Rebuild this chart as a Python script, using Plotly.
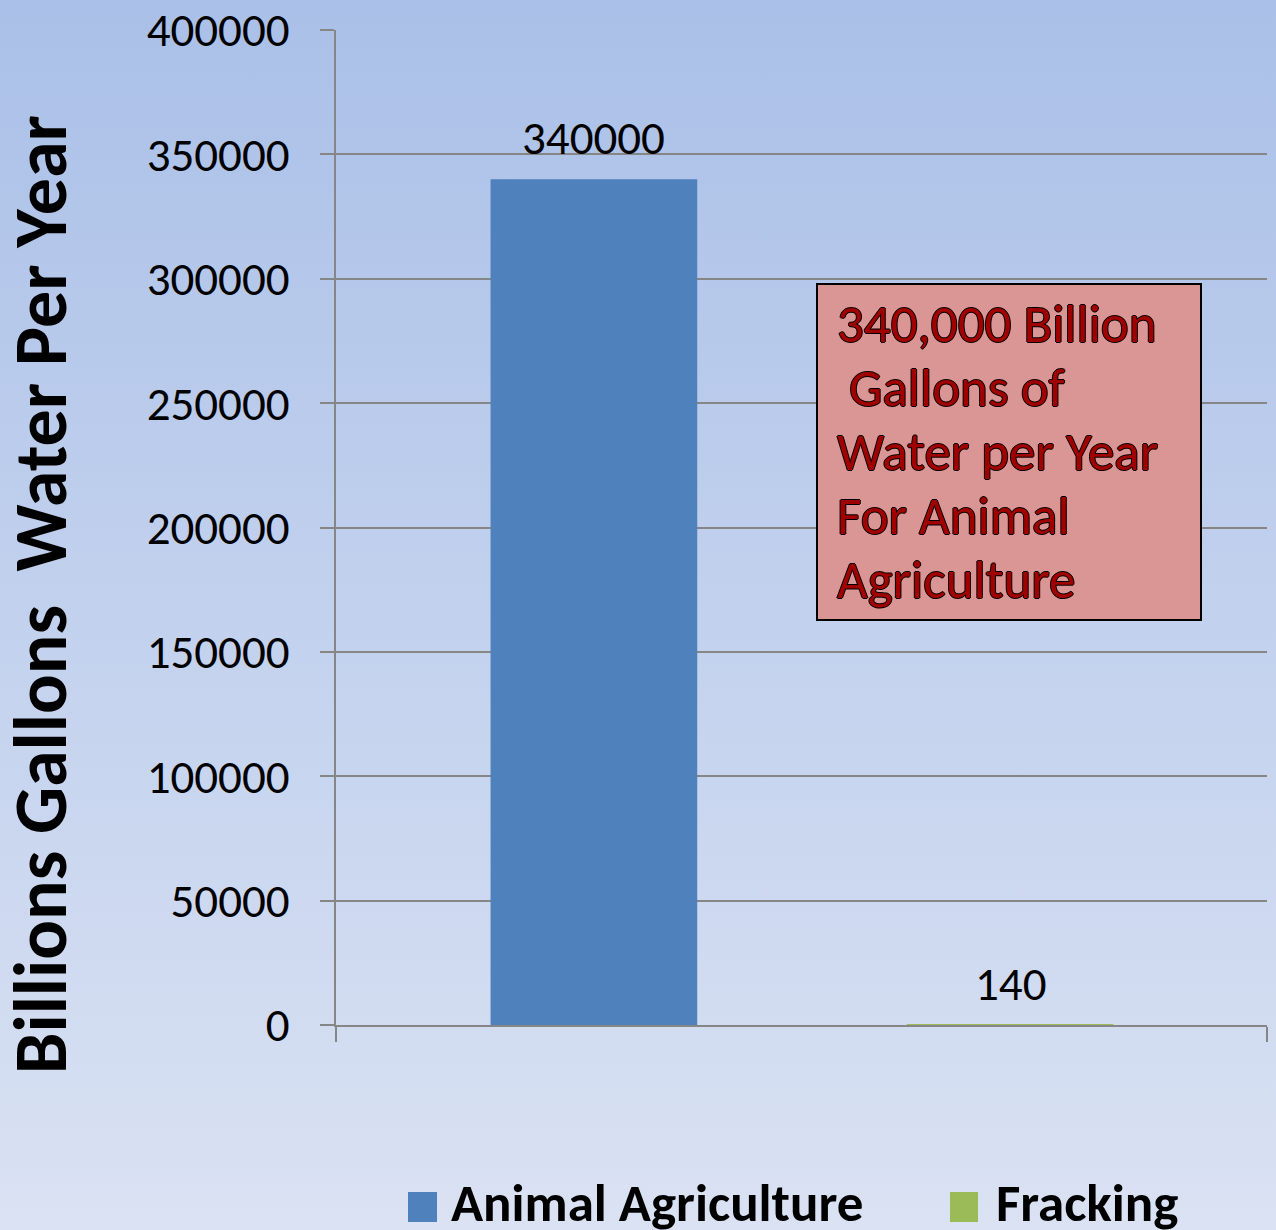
import base64
import plotly.graph_objects as go

# ---- data ----
category = ["Water Use"]
series_names = ["Animal Agriculture", "Fracking"]
series_values = [340000, 140]
series_colors = ["#4f81bd", "#9bbb59"]
y_tick_values = [0, 50000, 100000, 150000, 200000, 250000, 300000, 350000, 400000]
y_title = "Billions Gallons\u00a0 Water Per Year"
callout_lines = ["340,000 Billion", "\u00a0Gallons of", "Water per Year", "For Animal", "Agriculture"]

# ---- layout geometry ----
W, H = 1276, 1230
ML, MR, MT, MB = 336, 9, 30, 205
PW, PH = W - ML - MR, H - MT - MB

def px_x(px):
    return (px - ML) / PW

def px_y(py):
    return 1 - (py - MT) / PH

FONT = "Carlito, Calibri, 'Open Sans', sans-serif"
GRID = "#868686"

bar_width = 0.222
bar_offsets = [-0.334, 0.113]

fig = go.Figure()
for name, val, col, off in zip(series_names, series_values, series_colors, bar_offsets):
    fig.add_trace(go.Bar(
        x=category, y=[val], name=name, marker=dict(color=col, line=dict(width=0)),
        offset=off, width=bar_width, showlegend=False,
    ))
    # data label
    fig.add_annotation(
        x=off + bar_width / 2, y=val, xref="x", yref="y", text=str(val),
        showarrow=False, yanchor="bottom", yshift=10,
        font=dict(family=FONT, size=47, color="#000000"),
    )

# background gradient
svg = (
    f'<svg xmlns="http://www.w3.org/2000/svg" width="{W}" height="{H}" preserveAspectRatio="none">'
    '<defs><linearGradient id="g" x1="0" y1="0" x2="0" y2="1">'
    '<stop offset="0" stop-color="#aac0e8"/><stop offset="1" stop-color="#dae2f3"/>'
    '</linearGradient></defs>'
    f'<rect width="{W}" height="{H}" fill="url(#g)"/></svg>'
)
src = "data:image/svg+xml;base64," + base64.b64encode(svg.encode()).decode()
fig.add_layout_image(
    source=src, xref="paper", yref="paper", x=px_x(0), y=px_y(0),
    sizex=W / PW, sizey=H / PH, xanchor="left", yanchor="top",
    sizing="stretch", layer="below",
)

# y-axis title
fig.add_annotation(
    xref="paper", yref="paper", x=px_x(41), y=px_y(595), text=y_title,
    textangle=-90, showarrow=False, xanchor="center", yanchor="middle",
    font=dict(family=FONT, size=74, color="#000000", weight="bold"),
)

# callout box
fig.add_shape(
    type="rect", xref="paper", yref="paper",
    x0=px_x(817), x1=px_x(1201), y0=px_y(620), y1=px_y(284),
    fillcolor="#d99694", line=dict(color="#000000", width=2), layer="above",
)
CALLOUT_SIZE = 53
first_baseline, line_step = 343, 64
for i, line in enumerate(callout_lines):
    baseline = first_baseline + i * line_step
    fig.add_annotation(
        xref="paper", yref="paper", x=px_x(835), y=px_y(baseline - CALLOUT_SIZE),
        text=line, showarrow=False, align="left", xanchor="left", yanchor="top",
        font=dict(family=FONT, size=CALLOUT_SIZE, color="#a00000",
                  shadow="1px 0 0 #000, -1px 0 0 #000, 0 1px 0 #000, 0 -1px 0 #000"),
    )

# manual legend
legend_sq = [(408, 437), (950, 978)]
legend_text_x = [449, 994]
for (x0, x1), tx, name, col in zip(legend_sq, legend_text_x, series_names, series_colors):
    fig.add_shape(type="rect", xref="paper", yref="paper",
                  x0=px_x(x0), x1=px_x(x1), y0=px_y(1222), y1=px_y(1192),
                  fillcolor=col, line=dict(width=0))
    fig.add_annotation(xref="paper", yref="paper", x=px_x(tx), y=px_y(1222 - 53),
                       text=name, showarrow=False, xanchor="left", yanchor="top",
                       font=dict(family=FONT, size=53, color="#000000", weight="bold"))

fig.update_layout(
    width=W, height=H, margin=dict(l=ML, r=MR, t=MT, b=MB),
    paper_bgcolor="#c3d1ec", plot_bgcolor="rgba(0,0,0,0)",
    barmode="overlay", showlegend=False,
    font=dict(family=FONT, color="#000000"),
    xaxis=dict(
        type="category", range=[-0.5, 0.5], showticklabels=False,
        showline=True, linecolor=GRID, linewidth=2,
        ticks="outside", tickson="boundaries", ticklen=15, tickwidth=2, tickcolor=GRID,
        showgrid=False, zeroline=False, fixedrange=True,
    ),
    yaxis=dict(
        range=[0, 400000], tickvals=y_tick_values,
        ticktext=[str(v) for v in y_tick_values],
        showline=True, linecolor=GRID, linewidth=2,
        ticks="outside", ticklen=14, tickwidth=2, tickcolor=GRID,
        showgrid=True, gridcolor=GRID, gridwidth=2, zeroline=False,
        tickfont=dict(family=FONT, size=47, color="#000000"),
        ticklabelstandoff=21, automargin=False,
    ),
)

fig.write_html("out.html")
